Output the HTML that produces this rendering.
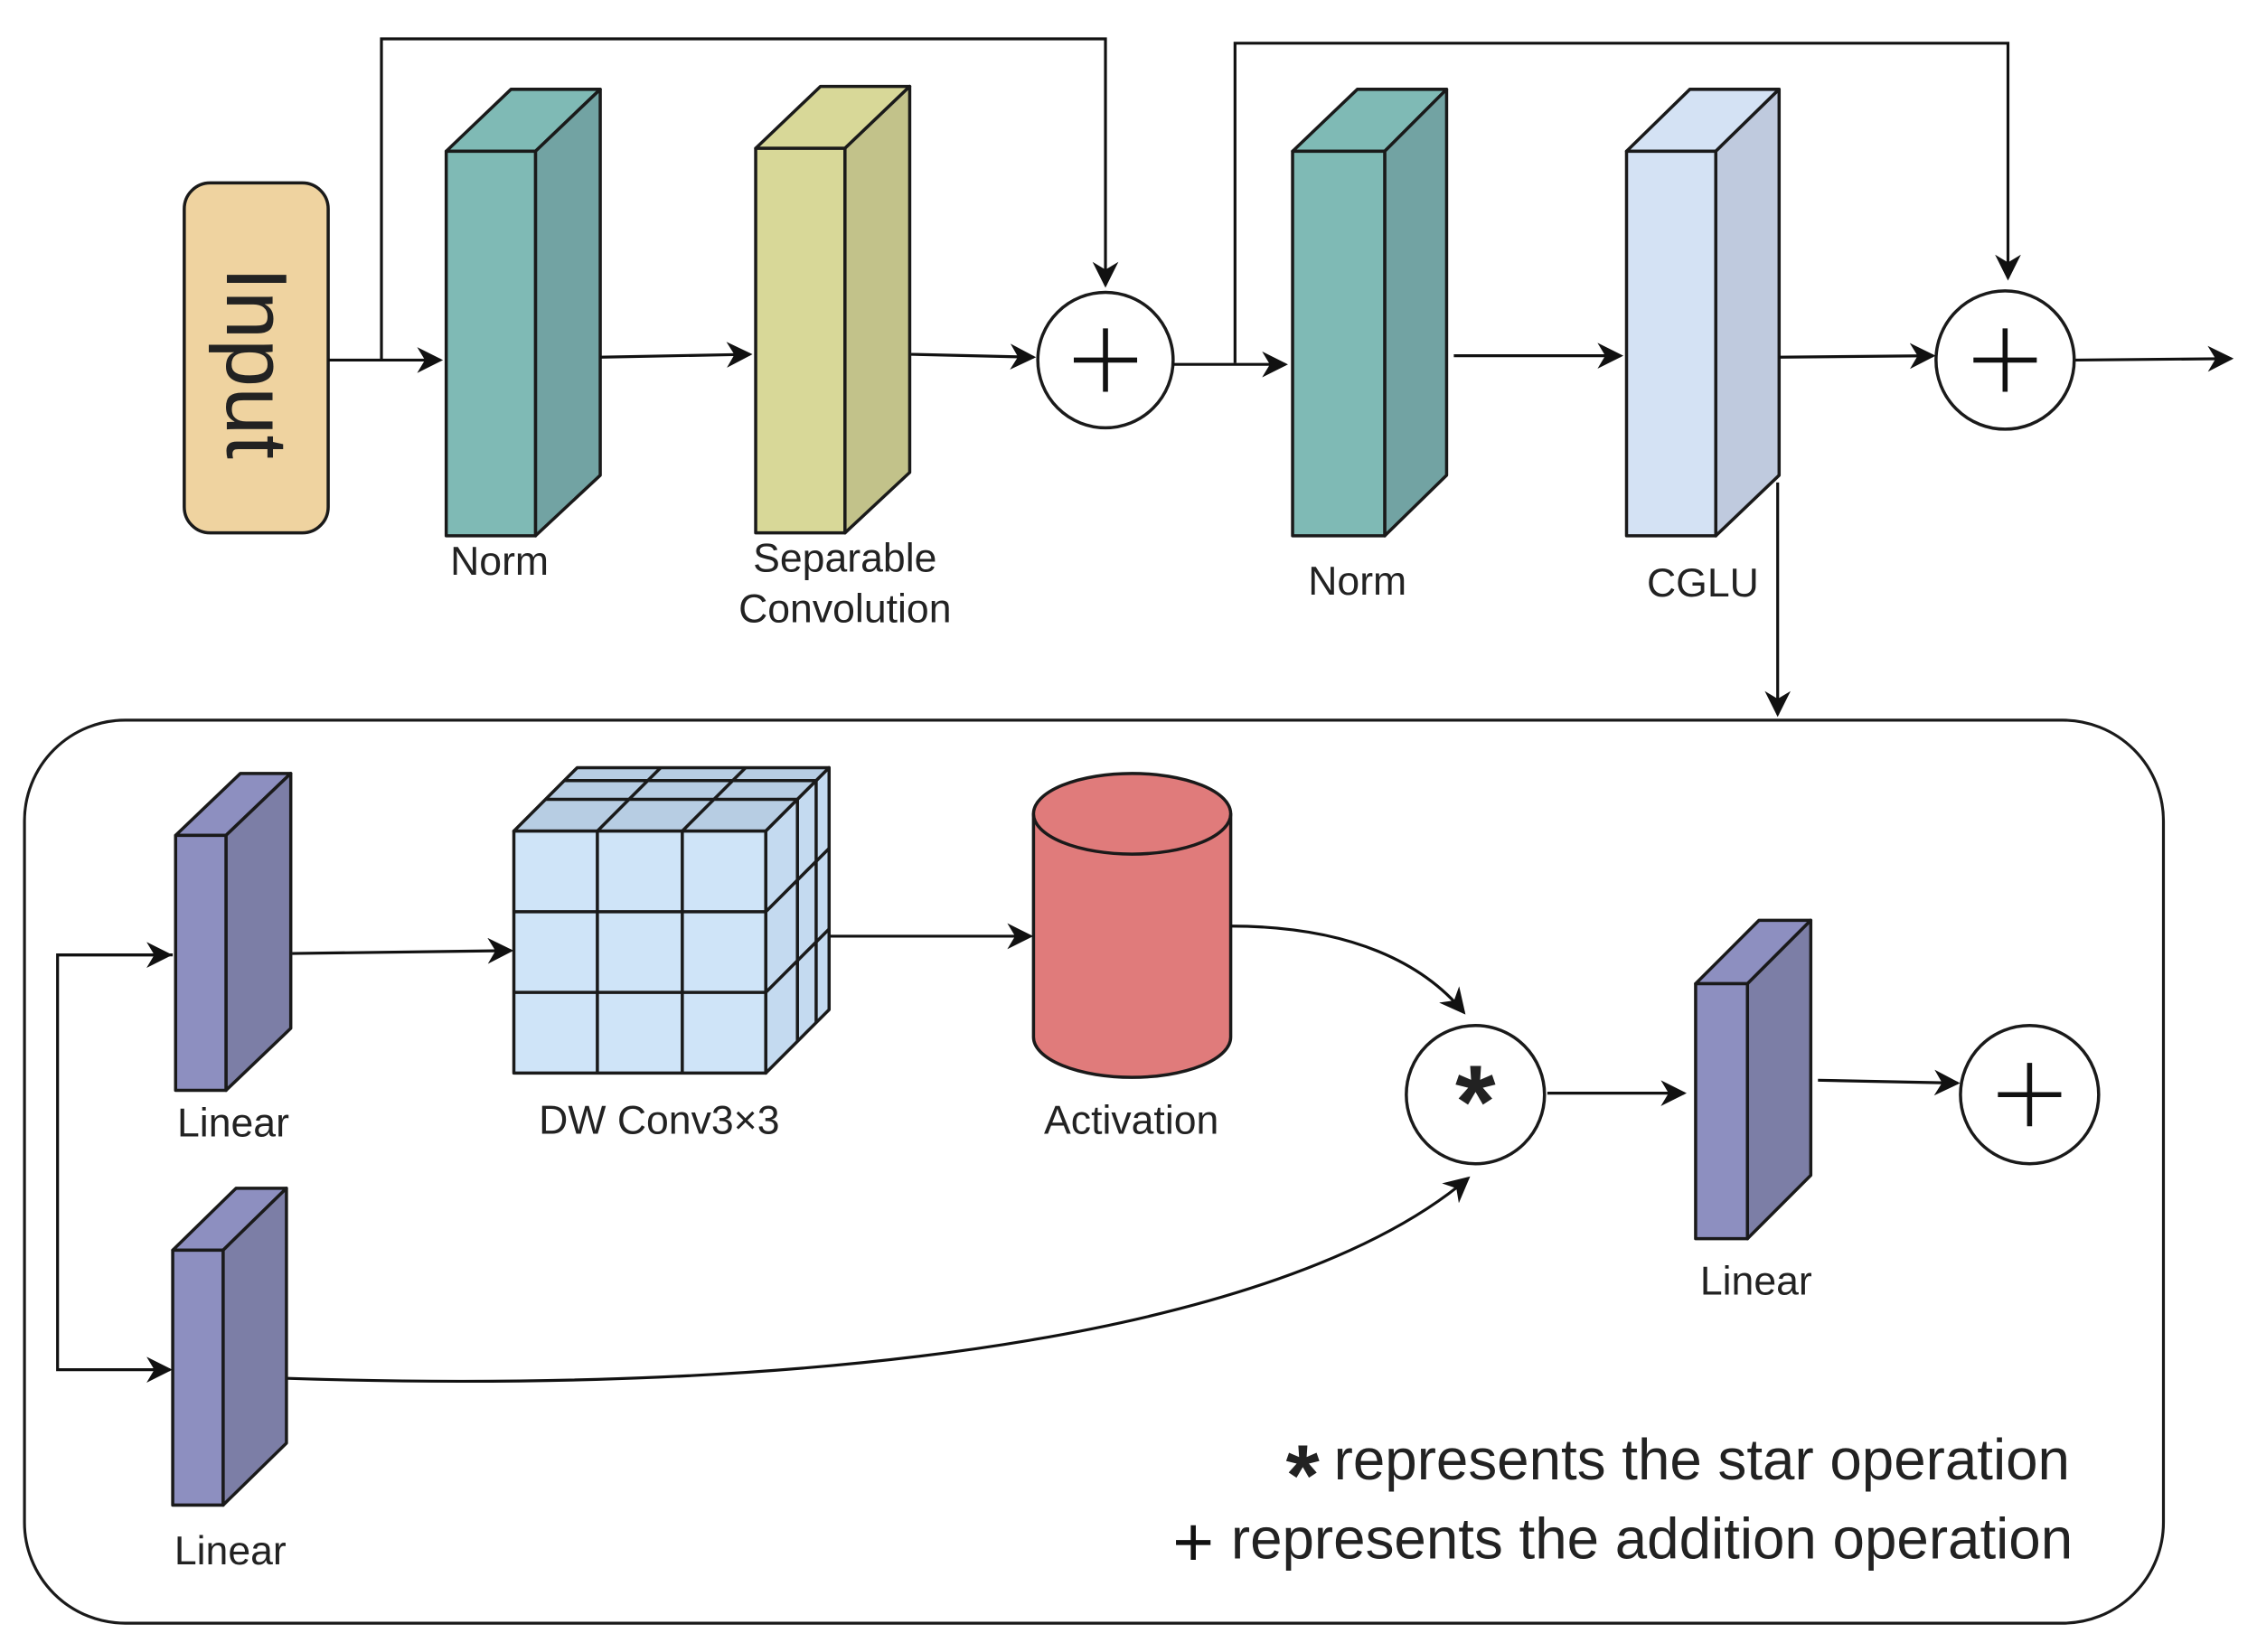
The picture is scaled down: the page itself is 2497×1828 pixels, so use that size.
<!DOCTYPE html>
<html><head><meta charset="utf-8"><style>
html,body{margin:0;padding:0;background:#fff;}
svg{display:block;}
text{font-family:"Liberation Sans",sans-serif;fill:#222;}
</style></head><body>
<svg width="2497" height="1828" viewBox="0 0 1568 1147" preserveAspectRatio="none" xmlns="http://www.w3.org/2000/svg">
<defs>
<marker id="b" viewBox="0 0 10 10" refX="9" refY="5" markerWidth="18" markerHeight="18" markerUnits="userSpaceOnUse" orient="auto"><path d="M0,0L10,5L0,10L3,5z" fill="#111"/></marker>
</defs>
<g stroke="#1a1a1a" stroke-width="2.2" stroke-linejoin="round">
<rect x="128" y="127" width="100" height="243" rx="18" fill="#efd3a0"/>
<path d="M310,105L355,62L417,62L372,105Z" fill="#7fbab5"/>
<path d="M372,105L417,62L417,330L372,372Z" fill="#72a3a3"/>
<rect x="310" y="105" width="62" height="267" fill="#7fbab5"/>
<path d="M525,103L570,60L632,60L587,103Z" fill="#d8d898"/>
<path d="M587,103L632,60L632,328L587,370Z" fill="#c2c28a"/>
<rect x="525" y="103" width="62" height="267" fill="#d8d898"/>
<path d="M898,105L943,62L1005,62L962,105Z" fill="#7fbab5"/>
<path d="M962,105L1005,62L1005,330L962,372Z" fill="#72a3a3"/>
<rect x="898" y="105" width="64" height="267" fill="#7fbab5"/>
<path d="M1130,105L1174,62L1236,62L1192,105Z" fill="#d4e2f4"/>
<path d="M1192,105L1236,62L1236,330L1192,372Z" fill="#bfcade"/>
<rect x="1130" y="105" width="62" height="267" fill="#d4e2f4"/>
<circle cx="768" cy="250" r="47" fill="#fff"/>
<circle cx="1393" cy="250" r="48" fill="#fff"/>
<rect x="17" y="500" width="1486" height="627" rx="70" fill="none" stroke-width="2"/>
<path d="M122,580L167,537L202,537L157,580Z" fill="#8d8fc0"/>
<path d="M157,580L202,537L202,714L157,757Z" fill="#7c7ea6"/>
<rect x="122" y="580" width="35" height="177" fill="#8d8fc0"/>
<path d="M120,868L164,825L199,825L155,868Z" fill="#8d8fc0"/>
<path d="M155,868L199,825L199,1002L155,1045Z" fill="#7c7ea6"/>
<rect x="120" y="868" width="35" height="177" fill="#8d8fc0"/>
<path d="M1178,683L1222,639L1258,639L1214,683Z" fill="#8d8fc0"/>
<path d="M1214,683L1258,639L1258,816L1214,860Z" fill="#7c7ea6"/>
<rect x="1178" y="683" width="36" height="177" fill="#8d8fc0"/>
<path d="M357,577L401,533L576,533L532,577Z" fill="#b7cde3"/>
<path d="M532,577L576,533L576,701L532,745Z" fill="#c4daf0"/>
<rect x="357" y="577" width="175" height="168" fill="#cfe4f8"/>
<g fill="none">
<path d="M415,577V745M474,577V745M357,633H532M357,689H532"/>
<path d="M379,555L554,555L554,723M392,542L567,542L567,710"/>
<path d="M415,577L459,533M474,577L518,533"/>
<path d="M532,633L576,589M532,689L576,645"/>
</g>
<path d="M718,565V720A68.5,28 0 0 0 855,720V565Z" fill="#e07b7b"/>
<ellipse cx="786.5" cy="565" rx="68.5" ry="28" fill="#e07b7b"/>
<circle cx="1025" cy="760" r="48" fill="#fff"/>
<circle cx="1410" cy="760" r="48" fill="#fff"/>
</g>
<g stroke="#111" stroke-width="3.5">
<path d="M768,228V272M746,250H790"/>
<path d="M1393,228V272M1371,250H1415"/>
<path d="M1410,738V782M1388,760H1432"/>
</g>
<text x="1025" y="790" font-size="72" font-weight="bold" text-anchor="middle">*</text>
<g stroke="#111" stroke-width="2" fill="none">
<path d="M228,250H306" marker-end="url(#b)"/>
<path d="M265,250V27H768V198" marker-end="url(#b)"/>
<path d="M417,248L521,246" marker-end="url(#b)"/>
<path d="M633,246L718,248" marker-end="url(#b)"/>
<path d="M815,253H893" marker-end="url(#b)"/>
<path d="M858,252V30H1395V193" marker-end="url(#b)"/>
<path d="M1010,247H1126" marker-end="url(#b)"/>
<path d="M1236,248L1343,247" marker-end="url(#b)"/>
<path d="M1442,250L1550,249" marker-end="url(#b)"/>
<path d="M1235,335V496" marker-end="url(#b)"/>
<path d="M203,662L355,660" marker-end="url(#b)"/>
<path d="M577,650H716" marker-end="url(#b)"/>
<path d="M855,643C940,643 990,670 1017,703" marker-end="url(#b)"/>
<path d="M200,957C600,970 900,920 1020,818" marker-end="url(#b)"/>
<path d="M1075,759H1170" marker-end="url(#b)"/>
<path d="M1263,750L1360,752" marker-end="url(#b)"/>
<path d="M120,663H40V951H118" marker-end="url(#b)"/>
<path d="M40,663H118" marker-end="url(#b)"/>
</g>
<text x="178" y="252" font-size="60" text-anchor="middle" dominant-baseline="central" transform="rotate(90 178 252)">Input</text>
<g font-size="28" text-anchor="middle">
<text x="347" y="399">Norm</text>
<text x="587" y="397">Separable</text>
<text x="587" y="432">Convolution</text>
<text x="943" y="413">Norm</text>
<text x="1183" y="414">CGLU</text>
<text x="162" y="789">Linear</text>
<text x="458" y="787">DW Conv3×3</text>
<text x="786" y="787">Activation</text>
<text x="1220" y="899">Linear</text>
<text x="160" y="1086">Linear</text>
</g>
<g font-size="40" text-anchor="end">
<text x="1438" y="1027">represents the star operation</text>
<text x="1440" y="1082">represents the addition operation</text>
</g>
<text x="905" y="1045" font-size="60" font-weight="bold" text-anchor="middle">*</text>
<g stroke="#111" stroke-width="3.5"><path d="M829,1059V1083M817,1071H841"/></g>
</svg>
</body></html>
